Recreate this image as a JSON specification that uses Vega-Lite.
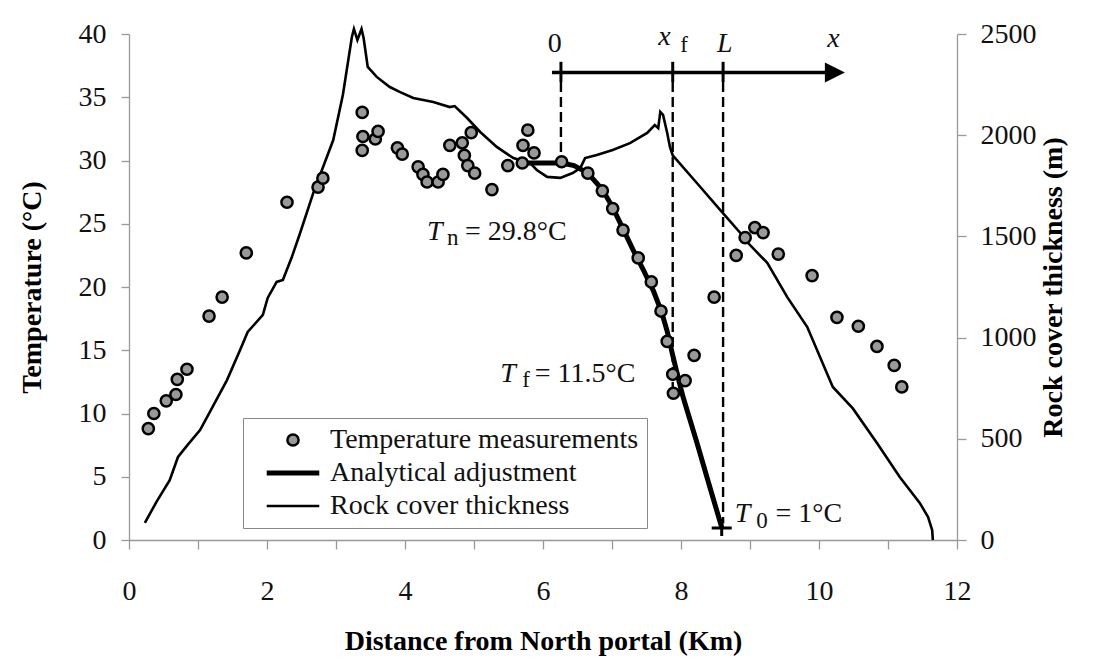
{
  "$schema": "https://vega.github.io/schema/vega-lite/v6.json",
  "width": 828,
  "height": 506,
  "autosize": {"type": "none"},
  "padding": {"left": 129, "top": 34, "right": 153, "bottom": 130},
  "background": "white",
  "config": {
    "view": {"stroke": null},
    "font": "Liberation Serif",
    "axis": {
      "grid": false,
      "domainColor": "#999999",
      "domainWidth": 1.3,
      "tickColor": "#999999",
      "tickWidth": 1.3,
      "labelFont": "Liberation Serif",
      "labelFontSize": 28,
      "labelColor": "#111111",
      "labelFlush": false,
      "labelOverlap": false,
      "titleFont": "Liberation Serif",
      "titleFontSize": 28,
      "titleFontWeight": "bold",
      "titleColor": "#000000"
    },
    "legend": {
      "orient": "none",
      "legendX": 114,
      "legendY": 384,
      "padding": 8,
      "rowPadding": 5,
      "strokeColor": "#888888",
      "fillColor": "white",
      "labelFont": "Liberation Serif",
      "labelFontSize": 28,
      "labelColor": "#111111",
      "labelLimit": 500,
      "labelOffset": 23,
      "symbolOffset": 28,
      "symbolSize": 125
    }
  },
  "layer": [
    {
      "data": {"values": [
        {"x": 0.23, "m": 84}, {"x": 0.40, "m": 190}, {"x": 0.59, "m": 296}, {"x": 0.71, "m": 410},
        {"x": 0.85, "m": 470}, {"x": 1.03, "m": 543}, {"x": 1.20, "m": 650}, {"x": 1.42, "m": 790},
        {"x": 1.61, "m": 939}, {"x": 1.72, "m": 1028}, {"x": 1.94, "m": 1112}, {"x": 2.01, "m": 1196},
        {"x": 2.14, "m": 1275}, {"x": 2.23, "m": 1285}, {"x": 2.36, "m": 1398}, {"x": 2.48, "m": 1517},
        {"x": 2.67, "m": 1714}, {"x": 2.96, "m": 1976}, {"x": 3.10, "m": 2200}, {"x": 3.23, "m": 2485},
        {"x": 3.26, "m": 2525}, {"x": 3.31, "m": 2470}, {"x": 3.37, "m": 2525}, {"x": 3.40, "m": 2480},
        {"x": 3.46, "m": 2337}, {"x": 3.59, "m": 2288}, {"x": 3.78, "m": 2238}, {"x": 3.93, "m": 2213},
        {"x": 4.12, "m": 2184}, {"x": 4.41, "m": 2164}, {"x": 4.65, "m": 2139}, {"x": 4.72, "m": 2144},
        {"x": 4.90, "m": 2085}, {"x": 5.09, "m": 2016}, {"x": 5.33, "m": 1942}, {"x": 5.57, "m": 1887},
        {"x": 5.81, "m": 1863}, {"x": 5.91, "m": 1828}, {"x": 6.06, "m": 1794}, {"x": 6.25, "m": 1789},
        {"x": 6.43, "m": 1813}, {"x": 6.54, "m": 1838}, {"x": 6.61, "m": 1887}, {"x": 6.78, "m": 1902},
        {"x": 7.01, "m": 1927}, {"x": 7.26, "m": 1961}, {"x": 7.51, "m": 2011}, {"x": 7.62, "m": 2050},
        {"x": 7.67, "m": 2035}, {"x": 7.70, "m": 2115}, {"x": 7.74, "m": 2100}, {"x": 7.80, "m": 2011},
        {"x": 7.84, "m": 1942}, {"x": 7.88, "m": 1900}, {"x": 8.28, "m": 1744}, {"x": 8.57, "m": 1630},
        {"x": 8.86, "m": 1517}, {"x": 8.93, "m": 1482}, {"x": 9.25, "m": 1369}, {"x": 9.54, "m": 1200},
        {"x": 9.83, "m": 1052}, {"x": 10.20, "m": 756}, {"x": 10.49, "m": 650}, {"x": 10.84, "m": 479},
        {"x": 11.17, "m": 311}, {"x": 11.46, "m": 183}, {"x": 11.58, "m": 114}, {"x": 11.64, "m": 49},
        {"x": 11.65, "m": 0}
      ]},
      "mark": {"type": "line", "color": "black", "strokeWidth": 2.6},
      "encoding": {
        "x": {
          "field": "x", "type": "quantitative",
          "scale": {"domain": [0, 12], "nice": false},
          "axis": {
            "title": "Distance from North portal (Km)",
            "values": [0, 1, 2, 3, 4, 5, 6, 7, 8, 9, 10, 11, 12],
            "format": "d",
            "labelFont": "Liberation Serif",
            "labelExpr": "datum.value % 2 === 0 ? datum.label : ''",
            "tickSize": 9,
            "labelPadding": 28,
            "titlePadding": 22,
            "encode": {"ticks": {"y": {"value": {"expr": "datum.value % 2 === 0 ? -7 : 0"}}}}
          }
        },
        "y": {
          "field": "m", "type": "quantitative",
          "scale": {"domain": [0, 2500], "nice": false},
          "axis": {
            "orient": "right",
            "title": "Rock cover thickness (m)",
            "values": [0, 500, 1000, 1500, 2000, 2500],
            "format": "d",
            "labelFont": "Liberation Serif",
            "tickSize": 9,
            "labelPadding": 14,
            "titlePadding": 3,
            "titleAngle": 270,
            "titleBaseline": "top",
            "encode": {"ticks": {"x": {"value": -10}}}
          }
        }
      }
    },
    {
      "layer": [
        {
          "data": {"values": [
            {"x": 5.75, "y": 29.8}, {"x": 6.27, "y": 29.8}, {"x": 6.45, "y": 29.6}, {"x": 6.65, "y": 29.0},
            {"x": 6.86, "y": 27.7}, {"x": 7.01, "y": 26.3}, {"x": 7.16, "y": 24.6}, {"x": 7.30, "y": 23.0},
            {"x": 7.45, "y": 21.4}, {"x": 7.60, "y": 19.7}, {"x": 7.72, "y": 18.0}, {"x": 7.80, "y": 16.5},
            {"x": 7.88, "y": 14.6}, {"x": 7.96, "y": 12.8}, {"x": 8.03, "y": 11.3}, {"x": 8.23, "y": 7.7},
            {"x": 8.39, "y": 4.7}, {"x": 8.59, "y": 1.0}
          ]},
          "mark": {"type": "line", "color": "black", "strokeWidth": 5},
          "encoding": {
            "x": {"field": "x", "type": "quantitative", "scale": {"domain": [0, 12], "nice": false}},
            "y": {
              "field": "y", "type": "quantitative",
              "scale": {"domain": [0, 40], "nice": false},
              "axis": {
                "orient": "left",
                "title": "Temperature (°C)",
                "values": [0, 5, 10, 15, 20, 25, 30, 35, 40],
                "format": "d",
                "labelFont": "Liberation Serif",
                "tickSize": 8,
                "labelPadding": 15,
                "titlePadding": 32,
                "encode": {"ticks": {"x": {"value": 9}}}
              }
            }
          }
        },
        {
          "data": {"values": [
            {"x": 6.26, "y": 36.2, "y2": 30.1},
            {"x": 7.88, "y": 36.2, "y2": 11.5},
            {"x": 8.61, "y": 36.2, "y2": 1.3}
          ]},
          "mark": {"type": "rule", "color": "black", "strokeWidth": 2.4, "strokeDash": [10, 5]},
          "encoding": {
            "x": {"field": "x", "type": "quantitative", "scale": {"domain": [0, 12], "nice": false}},
            "y": {"field": "y", "type": "quantitative"},
            "y2": {"field": "y2"}
          }
        },
        {
          "data": {"values": [
            {"x": 6.26, "y": 37.8, "y2": 36.2},
            {"x": 7.88, "y": 37.8, "y2": 36.2},
            {"x": 8.61, "y": 37.8, "y2": 36.2}
          ]},
          "mark": {"type": "rule", "color": "black", "strokeWidth": 3},
          "encoding": {
            "x": {"field": "x", "type": "quantitative", "scale": {"domain": [0, 12], "nice": false}},
            "y": {"field": "y", "type": "quantitative"},
            "y2": {"field": "y2"}
          }
        },
        {
          "data": {"values": [{"x": 6.13, "x2": 10.1, "y": 36.95}]},
          "mark": {"type": "rule", "color": "black", "strokeWidth": 3.5},
          "encoding": {
            "x": {"field": "x", "type": "quantitative", "scale": {"domain": [0, 12], "nice": false}},
            "x2": {"field": "x2"},
            "y": {"field": "y", "type": "quantitative"}
          }
        },
        {
          "data": {"values": [{"x": 10.23, "y": 36.95}]},
          "mark": {"type": "point", "shape": "M-1,-1L1,0L-1,1Z", "filled": true, "fill": "black", "opacity": 1, "size": 400, "strokeWidth": 0},
          "encoding": {
            "x": {"field": "x", "type": "quantitative", "scale": {"domain": [0, 12], "nice": false}},
            "y": {"field": "y", "type": "quantitative"}
          }
        },
        {
          "data": {"values": [
            {"x": 0.28, "y": 8.8}, {"x": 0.36, "y": 10.0}, {"x": 0.54, "y": 11.0}, {"x": 0.68, "y": 11.5},
            {"x": 0.70, "y": 12.7}, {"x": 0.84, "y": 13.5}, {"x": 1.16, "y": 17.7}, {"x": 1.35, "y": 19.2},
            {"x": 1.70, "y": 22.7}, {"x": 2.29, "y": 26.7}, {"x": 2.74, "y": 27.9}, {"x": 2.81, "y": 28.6},
            {"x": 3.38, "y": 33.8}, {"x": 3.39, "y": 31.9}, {"x": 3.38, "y": 30.8}, {"x": 3.57, "y": 31.7},
            {"x": 3.61, "y": 32.3}, {"x": 3.89, "y": 31.0}, {"x": 3.96, "y": 30.5}, {"x": 4.19, "y": 29.5},
            {"x": 4.26, "y": 28.9}, {"x": 4.32, "y": 28.3}, {"x": 4.48, "y": 28.3}, {"x": 4.55, "y": 28.9},
            {"x": 4.65, "y": 31.2}, {"x": 4.83, "y": 31.4}, {"x": 4.96, "y": 32.2}, {"x": 4.86, "y": 30.4},
            {"x": 4.91, "y": 29.6}, {"x": 5.01, "y": 29.0}, {"x": 5.26, "y": 27.7}, {"x": 5.49, "y": 29.6},
            {"x": 5.70, "y": 29.8}, {"x": 5.71, "y": 31.2}, {"x": 5.78, "y": 32.4}, {"x": 5.87, "y": 30.6},
            {"x": 6.27, "y": 29.9}, {"x": 6.65, "y": 29.0}, {"x": 6.86, "y": 27.6}, {"x": 7.01, "y": 26.2},
            {"x": 7.16, "y": 24.5}, {"x": 7.38, "y": 22.3}, {"x": 7.57, "y": 20.4}, {"x": 7.71, "y": 18.1},
            {"x": 7.80, "y": 15.7}, {"x": 7.88, "y": 13.1}, {"x": 7.89, "y": 11.6}, {"x": 8.06, "y": 12.6},
            {"x": 8.19, "y": 14.6}, {"x": 8.48, "y": 19.2}, {"x": 8.80, "y": 22.5}, {"x": 8.93, "y": 23.9},
            {"x": 9.07, "y": 24.7}, {"x": 9.19, "y": 24.3}, {"x": 9.41, "y": 22.6}, {"x": 9.90, "y": 20.9},
            {"x": 10.26, "y": 17.6}, {"x": 10.57, "y": 16.9}, {"x": 10.84, "y": 15.3}, {"x": 11.09, "y": 13.8},
            {"x": 11.20, "y": 12.1}
          ]},
          "transform": [{"calculate": "'Temperature measurements'", "as": "s"}],
          "mark": {"type": "point", "filled": true, "fill": "#999999", "size": 125, "opacity": 1, "strokeOpacity": 1},
          "encoding": {
            "x": {"field": "x", "type": "quantitative", "scale": {"domain": [0, 12], "nice": false}},
            "y": {"field": "y", "type": "quantitative"},
            "shape": {
              "field": "s", "type": "nominal", "title": null,
              "scale": {"domain": ["Temperature measurements", "Analytical adjustment", "Rock cover thickness"], "range": ["circle", "M-4.7,0H4.7", "M-4.7,0H4.7"]}
            },
            "stroke": {
              "field": "s", "type": "nominal", "title": null,
              "scale": {"domain": ["Temperature measurements", "Analytical adjustment", "Rock cover thickness"], "range": ["#000000", "#000000", "#000000"]}
            },
            "strokeWidth": {
              "field": "s", "type": "nominal", "title": null,
              "scale": {"type": "ordinal", "domain": ["Temperature measurements", "Analytical adjustment", "Rock cover thickness"], "range": [2.5, 5, 2.6]}
            }
          }
        },
        {
          "data": {"values": [{"x": 8.59, "y": 0.95}]},
          "mark": {"type": "point", "shape": "M-1,0H1M0,-0.7V0.8", "filled": false, "stroke": "black", "strokeWidth": 3, "opacity": 1, "size": 400},
          "encoding": {
            "x": {"field": "x", "type": "quantitative", "scale": {"domain": [0, 12], "nice": false}},
            "y": {"field": "y", "type": "quantitative"}
          }
        },
        {
          "data": {"values": [
            {"x": 4.32, "y": 23.7, "t": "T"},
            {"x": 5.38, "y": 12.5, "t": "T"},
            {"x": 8.78, "y": 1.42, "t": "T"},
            {"x": 7.67, "y": 39.1, "t": "x"},
            {"x": 8.52, "y": 38.6, "t": "L"},
            {"x": 10.12, "y": 39.0, "t": "x"}
          ]},
          "mark": {"type": "text", "align": "left", "baseline": "alphabetic", "font": "Liberation Serif", "fontSize": 28, "fontStyle": "italic", "color": "#111111"},
          "encoding": {
            "x": {"field": "x", "type": "quantitative", "scale": {"domain": [0, 12], "nice": false}},
            "y": {"field": "y", "type": "quantitative"},
            "text": {"field": "t"}
          }
        },
        {
          "data": {"values": [
            {"x": 4.61, "y": 23.3, "t": "n"},
            {"x": 5.70, "y": 12.1, "t": "f"},
            {"x": 9.09, "y": 0.95, "t": "0"},
            {"x": 7.99, "y": 38.6, "t": "f"}
          ]},
          "mark": {"type": "text", "align": "left", "baseline": "alphabetic", "font": "Liberation Serif", "fontSize": 23, "color": "#111111"},
          "encoding": {
            "x": {"field": "x", "type": "quantitative", "scale": {"domain": [0, 12], "nice": false}},
            "y": {"field": "y", "type": "quantitative"},
            "text": {"field": "t"}
          }
        },
        {
          "data": {"values": [
            {"x": 4.87, "y": 23.7, "t": "= 29.8°C"},
            {"x": 5.88, "y": 12.5, "t": "= 11.5°C"},
            {"x": 9.37, "y": 1.42, "t": "= 1°C"},
            {"x": 6.07, "y": 38.6, "t": "0"}
          ]},
          "mark": {"type": "text", "align": "left", "baseline": "alphabetic", "font": "Liberation Serif", "fontSize": 28, "color": "#111111"},
          "encoding": {
            "x": {"field": "x", "type": "quantitative", "scale": {"domain": [0, 12], "nice": false}},
            "y": {"field": "y", "type": "quantitative"},
            "text": {"field": "t"}
          }
        }
      ]
    }
  ],
  "resolve": {"scale": {"y": "independent"}}
}
